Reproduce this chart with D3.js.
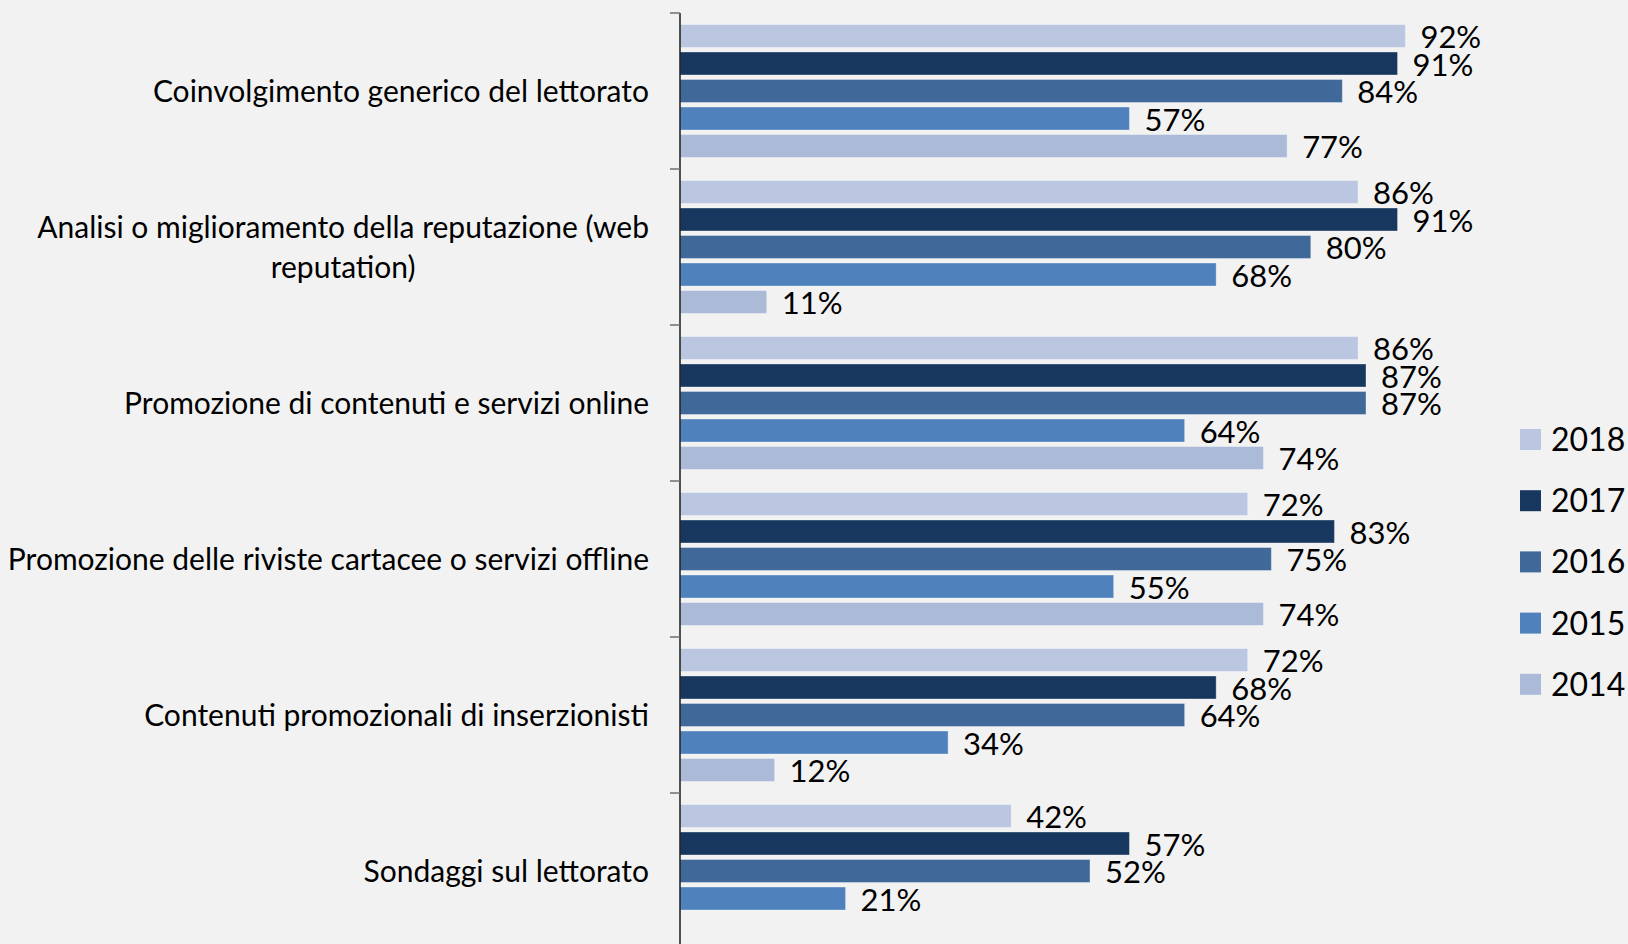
<!DOCTYPE html>
<html>
<head>
<meta charset="utf-8">
<script src="https://cdn.jsdelivr.net/npm/d3@7"></script>
<style>
  html, body { margin: 0; padding: 0; background: #f2f2f2; }
  svg { display: block; font-family: Lato, "Open Sans", sans-serif; }
</style>
</head>
<body>
<svg id="chart" width="1628" height="944"></svg>
<script>
const categories = [
    ['Coinvolgimento generico del lettorato'],
    ['Analisi o miglioramento della reputazione (web', 'reputation)'],
    ['Promozione di contenuti e servizi online'],
    ['Promozione delle riviste cartacee o servizi offline'],
    ['Contenuti promozionali di inserzionisti'],
    ['Sondaggi sul lettorato']
];
const years = ['2018', '2017', '2016', '2015', '2014'];

// percentage per category, in the order of years (null = no bar)
const values2018 = [92, 86, 86, 72, 72, 42];
const values2017 = [91, 91, 87, 83, 68, 57];
const values2016 = [84, 80, 87, 75, 64, 52];
const values2015 = [57, 68, 64, 55, 34, 21];
const values2014 = [77, 11, 74, 74, 12, null];

const colors = ['#bbc7e0', '#17375e', '#40699a', '#4f81bd', '#aabad7'];

const seriesValues = [values2018, values2017, values2016, values2015, values2014];

const svg = d3.select('#chart');
const axisX = 680;

const x = d3.scaleLinear().domain([0, 100]).range([axisX, axisX + 788.5]);
const y = d3.scaleBand().domain(d3.range(categories.length)).range([13, 949]);
const ySub = d3.scaleBand().domain(years).range([0, y.bandwidth()])
    .paddingInner(0.164).paddingOuter(0.418);
const color = d3.scaleOrdinal().domain(years).range(colors);

// flatten into bar records
const bars = [];
categories.forEach((c, i) => {
    years.forEach((yr, j) => {
        const v = seriesValues[j][i];
        if (v !== null) bars.push({ cat: i, year: yr, value: v });
    });
});

const barG = svg.append('g');
barG.selectAll('rect').data(bars).enter().append('rect')
    .attr('x', x(0))
    .attr('y', d => y(d.cat) + ySub(d.year))
    .attr('width', d => x(d.value) - x(0))
    .attr('height', ySub.bandwidth())
    .attr('fill', d => color(d.year))
    .attr('stroke', '#ffffff')
    .attr('stroke-opacity', 0.35)
    .attr('stroke-width', 1);

barG.selectAll('text').data(bars).enter().append('text')
    .attr('x', d => x(d.value) + 15)
    .attr('y', d => y(d.cat) + ySub(d.year) + ySub.bandwidth() / 2 + 1)
    .attr('dy', '0.36em')
    .attr('font-size', 31)
    .attr('fill', '#000')
    .text(d => d.value + '%');

// axis: vertical line plus ticks at the category boundaries
const axisG = svg.append('g');
axisG.append('line')
    .attr('x1', axisX).attr('x2', axisX)
    .attr('y1', y(0)).attr('y2', 944)
    .attr('stroke', '#1a1a1a').attr('stroke-width', 1.5);
axisG.selectAll('line.tick').data(d3.range(categories.length)).enter().append('line')
    .attr('class', 'tick')
    .attr('x1', axisX - 10).attr('x2', axisX)
    .attr('y1', d => y(d)).attr('y2', d => y(d))
    .attr('stroke', '#6f6f6f').attr('stroke-width', 1.5);

// category labels, wrapped lines centred on the widest line, block right-aligned
const labelRight = 649;
const lineGap = 40;
categories.forEach((lines, i) => {
    const g = svg.append('g');
    const texts = lines.map((line, k) => g.append('text')
        .attr('font-size', 30)
        .attr('fill', '#000')
        .attr('text-anchor', 'middle')
        .attr('dy', '0.35em')
        .attr('y', y(i) + y.bandwidth() / 2 + (k - (lines.length - 1) / 2) * lineGap)
        .text(line));
    const widest = d3.max(texts, t => t.node().getComputedTextLength());
    texts.forEach(t => t.attr('x', labelRight - widest / 2));
});

// legend
const legend = svg.append('g').selectAll('g').data(years).enter().append('g')
    .attr('transform', (d, i) => `translate(1520, ${439.5 + i * 61.2})`);
legend.append('rect')
    .attr('x', 0).attr('y', -10.5)
    .attr('width', 21).attr('height', 21)
    .attr('fill', d => color(d));
legend.append('text')
    .attr('x', 31).attr('y', 0)
    .attr('dy', '0.36em')
    .attr('font-size', 32)
    .attr('fill', '#000')
    .text(d => d);
</script>
</body>
</html>
